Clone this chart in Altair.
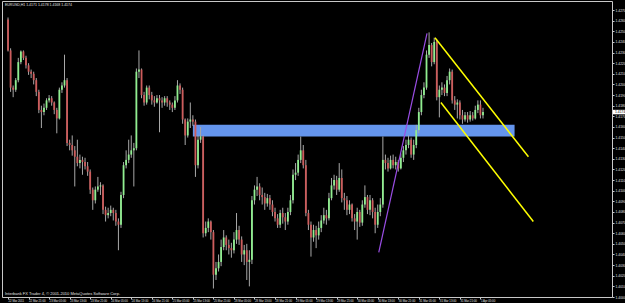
import altair as alt
import pandas as pd

# ---------------- data (EURUSD, H1) ----------------
first_open = 1.4261
closes = [
    1.4232, 1.4197, 1.4195, 1.4204, 1.4221, 1.4231, 1.4225, 1.4218, 1.4212, 1.4210,
    1.4204, 1.4193, 1.4176, 1.4174, 1.4178, 1.4185, 1.4187, 1.4183, 1.4176, 1.4168,
    1.4195, 1.4199, 1.4204, 1.4145, 1.4143, 1.4138, 1.4132, 1.4126, 1.4129, 1.4127,
    1.4123, 1.4118, 1.4101, 1.4091, 1.4101, 1.4104, 1.4105, 1.4082, 1.4077, 1.4079,
    1.4082, 1.4079, 1.4071, 1.4068, 1.4096, 1.4124, 1.4129, 1.4134, 1.4138, 1.4140,
    1.4212, 1.4214, 1.4190, 1.4183, 1.4197, 1.4190, 1.4185, 1.4183, 1.4187, 1.4185,
    1.4183, 1.4187, 1.4183, 1.4181, 1.4178, 1.4185, 1.4199, 1.4195, 1.4167, 1.4152,
    1.4165, 1.4167, 1.4165, 1.4124, 1.4148, 1.4151, 1.4060, 1.4065, 1.4071, 1.4061,
    1.4021, 1.4027, 1.4033, 1.4047, 1.4056, 1.4049, 1.4046, 1.4044, 1.4054, 1.4063,
    1.4054, 1.4040, 1.4044, 1.4033, 1.4035, 1.4091, 1.4101, 1.4104, 1.4096, 1.4094,
    1.4088, 1.4093, 1.4087, 1.4080, 1.4074, 1.4068, 1.4079, 1.4075, 1.4071, 1.4080,
    1.4091, 1.4115, 1.4117, 1.4129, 1.4138, 1.4124, 1.4079, 1.4068, 1.4056, 1.4063,
    1.4058, 1.4065, 1.4072, 1.4077, 1.4074, 1.4093, 1.4105, 1.4110, 1.4101, 1.4112,
    1.4093, 1.4091, 1.4082, 1.4087, 1.4074, 1.4071, 1.4080, 1.4070, 1.4087, 1.4094,
    1.4082, 1.4091, 1.4080, 1.4068, 1.4080, 1.4087, 1.4129, 1.4126, 1.4121, 1.4129,
    1.4124, 1.4127, 1.4121, 1.4131, 1.4138, 1.4143, 1.4148, 1.4134, 1.4143, 1.4157,
    1.4174, 1.4190, 1.4197, 1.4228, 1.4237, 1.4221, 1.4240, 1.4188, 1.4195, 1.4197,
    1.4192, 1.4204, 1.4212, 1.4185, 1.4181, 1.4183, 1.4171, 1.4167, 1.4171, 1.4167,
    1.4171, 1.4168, 1.4176, 1.4181, 1.4171, 1.4174,
]
highs = [
    1.4263, 1.4234, 1.4199, 1.4206, 1.4225, 1.4232, 1.4232, 1.4227, 1.4220, 1.4214,
    1.4212, 1.4206, 1.4195, 1.4180, 1.4182, 1.4187, 1.4190, 1.4189, 1.4184, 1.4178,
    1.4197, 1.4202, 1.4228, 1.4206, 1.4148, 1.4152, 1.4142, 1.4148, 1.4134, 1.4132,
    1.4131, 1.4127, 1.4120, 1.4103, 1.4104, 1.4113, 1.4108, 1.4106, 1.4085, 1.4084,
    1.4086, 1.4084, 1.4082, 1.4074, 1.4099, 1.4127, 1.4138, 1.4148, 1.4152, 1.4145,
    1.4215, 1.4232, 1.4215, 1.4193, 1.4199, 1.4199, 1.4193, 1.4189, 1.4190, 1.4190,
    1.4188, 1.4189, 1.4189, 1.4185, 1.4183, 1.4189, 1.4204, 1.4201, 1.4197, 1.4168,
    1.4168, 1.4183, 1.4171, 1.4167, 1.4152, 1.4160, 1.4152, 1.4071, 1.4074, 1.4072,
    1.4063, 1.4033, 1.4040, 1.4054, 1.4063, 1.4058, 1.4054, 1.4051, 1.4061, 1.4079,
    1.4067, 1.4057, 1.4049, 1.4050, 1.4044, 1.4095, 1.4105, 1.4113, 1.4107, 1.4103,
    1.4098, 1.4097, 1.4096, 1.4091, 1.4084, 1.4078, 1.4082, 1.4084, 1.4079, 1.4084,
    1.4096, 1.4120, 1.4126, 1.4134, 1.4151, 1.4143, 1.4129, 1.4082, 1.4071, 1.4068,
    1.4067, 1.4071, 1.4077, 1.4084, 1.4082, 1.4098, 1.4112, 1.4115, 1.4114, 1.4126,
    1.4120, 1.4098, 1.4095, 1.4091, 1.4088, 1.4078, 1.4084, 1.4082, 1.4091, 1.4105,
    1.4096, 1.4096, 1.4093, 1.4084, 1.4087, 1.4093, 1.4151, 1.4134, 1.4131, 1.4133,
    1.4134, 1.4132, 1.4129, 1.4135, 1.4142, 1.4148, 1.4152, 1.4150, 1.4148, 1.4162,
    1.4178, 1.4195, 1.4202, 1.4232, 1.4249, 1.4239, 1.4244, 1.4242, 1.4199, 1.4202,
    1.4200, 1.4208, 1.4215, 1.4214, 1.4189, 1.4186, 1.4185, 1.4176, 1.4174, 1.4174,
    1.4175, 1.4174, 1.4180, 1.4185, 1.4185, 1.4178,
]
lows = [
    1.4231, 1.4193, 1.4188, 1.4193, 1.4202, 1.4219, 1.4223, 1.4215, 1.4209, 1.4206,
    1.4200, 1.4189, 1.4173, 1.4159, 1.4171, 1.4176, 1.4183, 1.4180, 1.4172, 1.4154,
    1.4167, 1.4192, 1.4197, 1.4142, 1.4138, 1.4133, 1.4104, 1.4123, 1.4121, 1.4115,
    1.4120, 1.4114, 1.4097, 1.4082, 1.4088, 1.4099, 1.4096, 1.4078, 1.4071, 1.4074,
    1.4076, 1.4072, 1.4067, 1.4044, 1.4065, 1.4093, 1.4121, 1.4126, 1.4131, 1.4104,
    1.4138, 1.4206, 1.4187, 1.4180, 1.4181, 1.4186, 1.4181, 1.4179, 1.4182, 1.4155,
    1.4178, 1.4180, 1.4179, 1.4176, 1.4174, 1.4176, 1.4183, 1.4191, 1.4163, 1.4143,
    1.4150, 1.4159, 1.4161, 1.4113, 1.4121, 1.4145, 1.4056, 1.4057, 1.4061, 1.4054,
    1.4008, 1.4016, 1.4024, 1.4029, 1.4044, 1.4044, 1.4040, 1.4037, 1.4041, 1.4050,
    1.4049, 1.4033, 1.4030, 1.4016, 1.4010, 1.4031, 1.4087, 1.4095, 1.4091, 1.4087,
    1.4082, 1.4085, 1.4082, 1.4076, 1.4071, 1.4065, 1.4065, 1.4069, 1.4063, 1.4068,
    1.4077, 1.4088, 1.4110, 1.4114, 1.4126, 1.4121, 1.4076, 1.4063, 1.4038, 1.4052,
    1.4046, 1.4054, 1.4061, 1.4069, 1.4068, 1.4072, 1.4091, 1.4101, 1.4096, 1.4099,
    1.4089, 1.4082, 1.4077, 1.4078, 1.4071, 1.4063, 1.4054, 1.4066, 1.4067, 1.4084,
    1.4078, 1.4077, 1.4074, 1.4060, 1.4065, 1.4076, 1.4084, 1.4120, 1.4118, 1.4120,
    1.4121, 1.4120, 1.4118, 1.4120, 1.4127, 1.4134, 1.4140, 1.4131, 1.4129, 1.4140,
    1.4154, 1.4171, 1.4187, 1.4195, 1.4225, 1.4217, 1.4219, 1.4185, 1.4169, 1.4190,
    1.4189, 1.4189, 1.4200, 1.4182, 1.4176, 1.4168, 1.4167, 1.4163, 1.4165, 1.4164,
    1.4165, 1.4166, 1.4167, 1.4173, 1.4168, 1.4168,
]

date_labels = [
    "22 Mar 2011", "22 Mar 21:00", "23 Mar 05:00", "23 Mar 13:00", "23 Mar 21:00",
    "24 Mar 05:00", "24 Mar 13:00", "24 Mar 21:00", "25 Mar 05:00", "25 Mar 13:00",
    "25 Mar 21:00", "28 Mar 05:00", "28 Mar 13:00", "28 Mar 21:00", "29 Mar 05:00",
    "29 Mar 13:00", "29 Mar 21:00", "30 Mar 05:00", "30 Mar 13:00", "30 Mar 21:00",
    "31 Mar 05:00", "31 Mar 13:00", "31 Mar 21:00", "1 Apr 05:00",
]
date_label_bars = [0, 8, 16, 24, 32, 40, 48, 56, 64, 72, 80, 88, 96, 104, 112, 120,
                   128, 136, 144, 152, 160, 168, 176, 184]
price_ticks = [
    1.4000, 1.4010, 1.4020, 1.4030, 1.4040, 1.4050, 1.4060, 1.4070, 1.4080, 1.4090,
    1.4100, 1.4110, 1.4120, 1.4130, 1.4140, 1.4150, 1.4160, 1.4170, 1.4180, 1.4190,
    1.4200, 1.4210, 1.4220, 1.4230, 1.4240, 1.4250, 1.4260, 1.4270,
]

# drawn objects (bar index, price)
zone_bars = [72.0, 197.3]
zone_prices = [1.4151, 1.4162]
purple_bars = [144.4, 163.2]
purple_prices = [1.4042, 1.4248]
yellow_line = ["a", "a", "b", "b"]
yellow_bars = [166.3, 202.7, 168.6, 204.6]
yellow_prices = [1.4244, 1.4132, 1.4183, 1.4071]

title_text = "EURUSD,H1  1.4171 1.4178 1.4168 1.4174"
copyright_text = "Interbank FX Trader 4, \u00a9 2001-2010 MetaQuotes Software Corp."
current_price_text = "1.4174"

# ---------------- build ----------------
n = len(closes)
opens = [first_open] + closes[:-1]
df = pd.DataFrame({
    "i": list(range(n)),
    "open": opens,
    "high": highs,
    "low": lows,
    "close": closes,
})
df["dir"] = ["up" if c >= o else "down" for o, c in zip(opens, closes)]

W, H = 610, 296
TXT = "#e0e0e0"
FONT = "Liberation Sans"

xscale = alt.Scale(domain=[-0.4, 233.3], nice=False, zero=False)
yscale = alt.Scale(domain=[1.4000, 1.42785], nice=False, zero=False)

label_arr = "[" + ",".join("'" + s + "'" for s in date_labels) + "]"

x_axis = alt.Axis(
    values=date_label_bars, labelExpr=label_arr + "[round(datum.value / 8)]",
    orient="bottom", domain=False, grid=False, title=None,
    tickColor="#c8c8c8", tickSize=2, labelColor=TXT, labelFont=FONT,
    labelFontSize=2.8, labelAlign="left", labelBaseline="top", labelPadding=0.5,
    labelOverlap=False, labelFlush=False, labelBound=False,
)
y_axis = alt.Axis(
    values=price_ticks, format=".4f", orient="right", domain=False, grid=False,
    title=None, tickColor="#c8c8c8", tickSize=2, labelColor=TXT, labelFont=FONT,
    labelFontSize=3.4, labelPadding=1, labelOverlap=False, labelFlush=False,
    labelBound=False,
)


def X(field):
    return alt.X(field, scale=xscale, axis=x_axis)


def Y(field):
    return alt.Y(field, scale=yscale, axis=y_axis)


zone = alt.Chart(pd.DataFrame({
    "x1": [zone_bars[0]], "x2": [zone_bars[1]],
    "y1": [zone_prices[0]], "y2": [zone_prices[1]],
})).mark_rect(color="#6495ed", opacity=1).encode(
    x=X("x1:Q"), x2="x2:Q", y=Y("y1:Q"), y2="y2:Q",
)

wicks = alt.Chart(df).mark_rule(color="#a8a8a8", strokeWidth=1).encode(
    x=X("i:Q"), y=Y("low:Q"), y2="high:Q",
)

bodies = alt.Chart(df).mark_bar(size=1.8).encode(
    x=X("i:Q"), y=Y("open:Q"), y2="close:Q",
    color=alt.Color("dir:N", scale=alt.Scale(domain=["up", "down"],
                    range=["#90ee90", "#cd5c5c"]), legend=None),
)

purple = alt.Chart(pd.DataFrame({"b": purple_bars, "p": purple_prices})).mark_line(
    color="#9b4ee6", strokeWidth=1.2).encode(x=X("b:Q"), y=Y("p:Q"))

yellow = alt.Chart(pd.DataFrame({"l": yellow_line, "b": yellow_bars, "p": yellow_prices})).mark_line(
    color="#ffff00", strokeWidth=1.5).encode(x=X("b:Q"), y=Y("p:Q"), detail="l:N")

title = alt.Chart(pd.DataFrame({"t": [title_text]})).mark_text(
    align="left", baseline="middle", fontSize=3.5, font=FONT, color=TXT).encode(
    x=alt.value(3), y=alt.value(4), text="t:N")

copyright = alt.Chart(pd.DataFrame({"t": [copyright_text]})).mark_text(
    align="left", baseline="middle", fontSize=4, font=FONT, color=TXT).encode(
    x=alt.value(3), y=alt.value(292.5), text="t:N")

cp_df = pd.DataFrame({"p": [closes[-1]], "t": [current_price_text]})
cp_box = alt.Chart(cp_df).mark_rule(color="white", strokeWidth=4.5, clip=False).encode(
    x=alt.value(W + 1), x2=alt.value(W + 30), y=Y("p:Q"),
)
cp_text = alt.Chart(cp_df).mark_text(
    align="left", baseline="middle", fontSize=3.4, font=FONT, color="black", clip=False).encode(
    x=alt.value(W + 3), y=Y("p:Q"), text="t:N")

chart = alt.layer(zone, wicks, bodies, purple, yellow, title, copyright, cp_box, cp_text).properties(
    width=W, height=H,
    autosize=alt.AutoSizeParams(type="none"),
    padding={"left": 2, "top": 1, "right": 13, "bottom": 6},
    background="black",
).configure_view(stroke="#c8c8c8", strokeWidth=1, fill="black")

chart.save("out.html", embed_options={"renderer": "svg", "actions": False})
